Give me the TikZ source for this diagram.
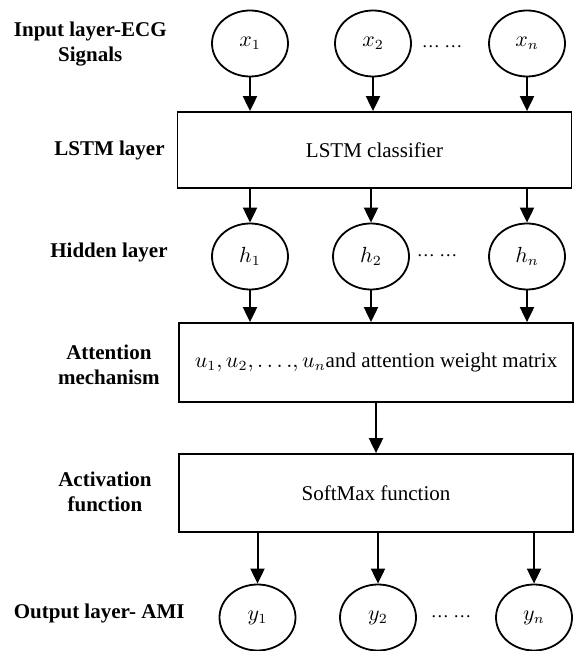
\documentclass[tikz,border=0pt]{standalone}
\usepackage{fontspec}
\setmainfont{Liberation Serif}
\usetikzlibrary{arrows.meta}
\usetikzlibrary{shapes.geometric}

\begin{document}
\begin{tikzpicture}[x=0.5pt,y=-0.5pt,
		font=\fontsize{10.5}{12.5}\selectfont,
		unit/.style={ellipse, draw, line width=0.9pt, minimum width=38pt, minimum height=33pt, inner sep=0pt},
		block/.style={rectangle, draw, line width=0.9pt, minimum width=197pt, inner sep=0pt},
		tag/.style={font=\fontsize{10.5}{12.5}\selectfont\bfseries, align=center, anchor=east, inner sep=0pt},
		gap/.style={inner sep=0pt, font=\fontsize{9}{10}\selectfont},
		feed/.style={line width=1pt, -{Triangle[width=7pt,length=7.5pt]}}]
	\useasboundingbox (0,0) rectangle (575,651);
	
	% layer names
	\node[tag] (tin) at (167,44.5) {Input layer-ECG\\Signals};
	\node[tag] (tlstm) at (165,150) {LSTM layer};
	\node[tag] (thid) at (168,252) {Hidden layer};
	\node[tag] (tatt) at (160,364.5) {Attention\\mechanism};
	\node[tag] (tact) at (152,491.5) {Activation\\function};
	\node[tag] (tout) at (185,613) {Output layer- AMI};
	
	% inputs
	\node[unit] (x1) at (250,43.5) {$x_1$};
	\node[unit] (x2) at (373,43.5) {$x_2$};
	\node[unit] (xn) at (527,43.5) {$x_n$};
	\node[gap] (xdots) at (442,47) {\dots\ \dots};
	
	\node[block, minimum height=38pt] (lstm) at (374.5,150) {LSTM classifier};
	
	% hidden states
	\node[unit] (h1) at (250,256.5) {$h_1$};
	\node[unit] (h2) at (371,256.5) {$h_2$};
	\node[unit] (hn) at (527,256.5) {$h_n$};
	\node[gap] (hdots) at (437,256) {\dots\ \dots};
	
	\node[block, minimum height=39.5pt] (att) at (376,362.5) {$u_1,u_2,\dots.,u_n$and attention weight matrix};
	\node[block, minimum height=39pt] (soft) at (376,493) {SoftMax function};
	
	% outputs
	\node[unit] (y1) at (257.5,617.5) {$y_1$};
	\node[unit] (y2) at (378,617.5) {$y_2$};
	\node[unit] (yn) at (534,617.5) {$y_n$};
	\node[gap] (ydots) at (451,617) {\dots\ \dots};
	
	\foreach \n in {x1,x2,xn}
		\draw[feed] (\n.south) -- (\n.south |- lstm.north);
	\foreach \n in {h1,h2,hn}{
		\draw[feed] (lstm.south -| \n) -- (\n.north);
		\draw[feed] (\n.south) -- (\n.south |- att.north);
	}
	\draw[feed] (att) -- (soft);
	\foreach \n in {y1,y2,yn}
		\draw[feed] (soft.south -| \n) -- (\n.north);
\end{tikzpicture}
\end{document}
